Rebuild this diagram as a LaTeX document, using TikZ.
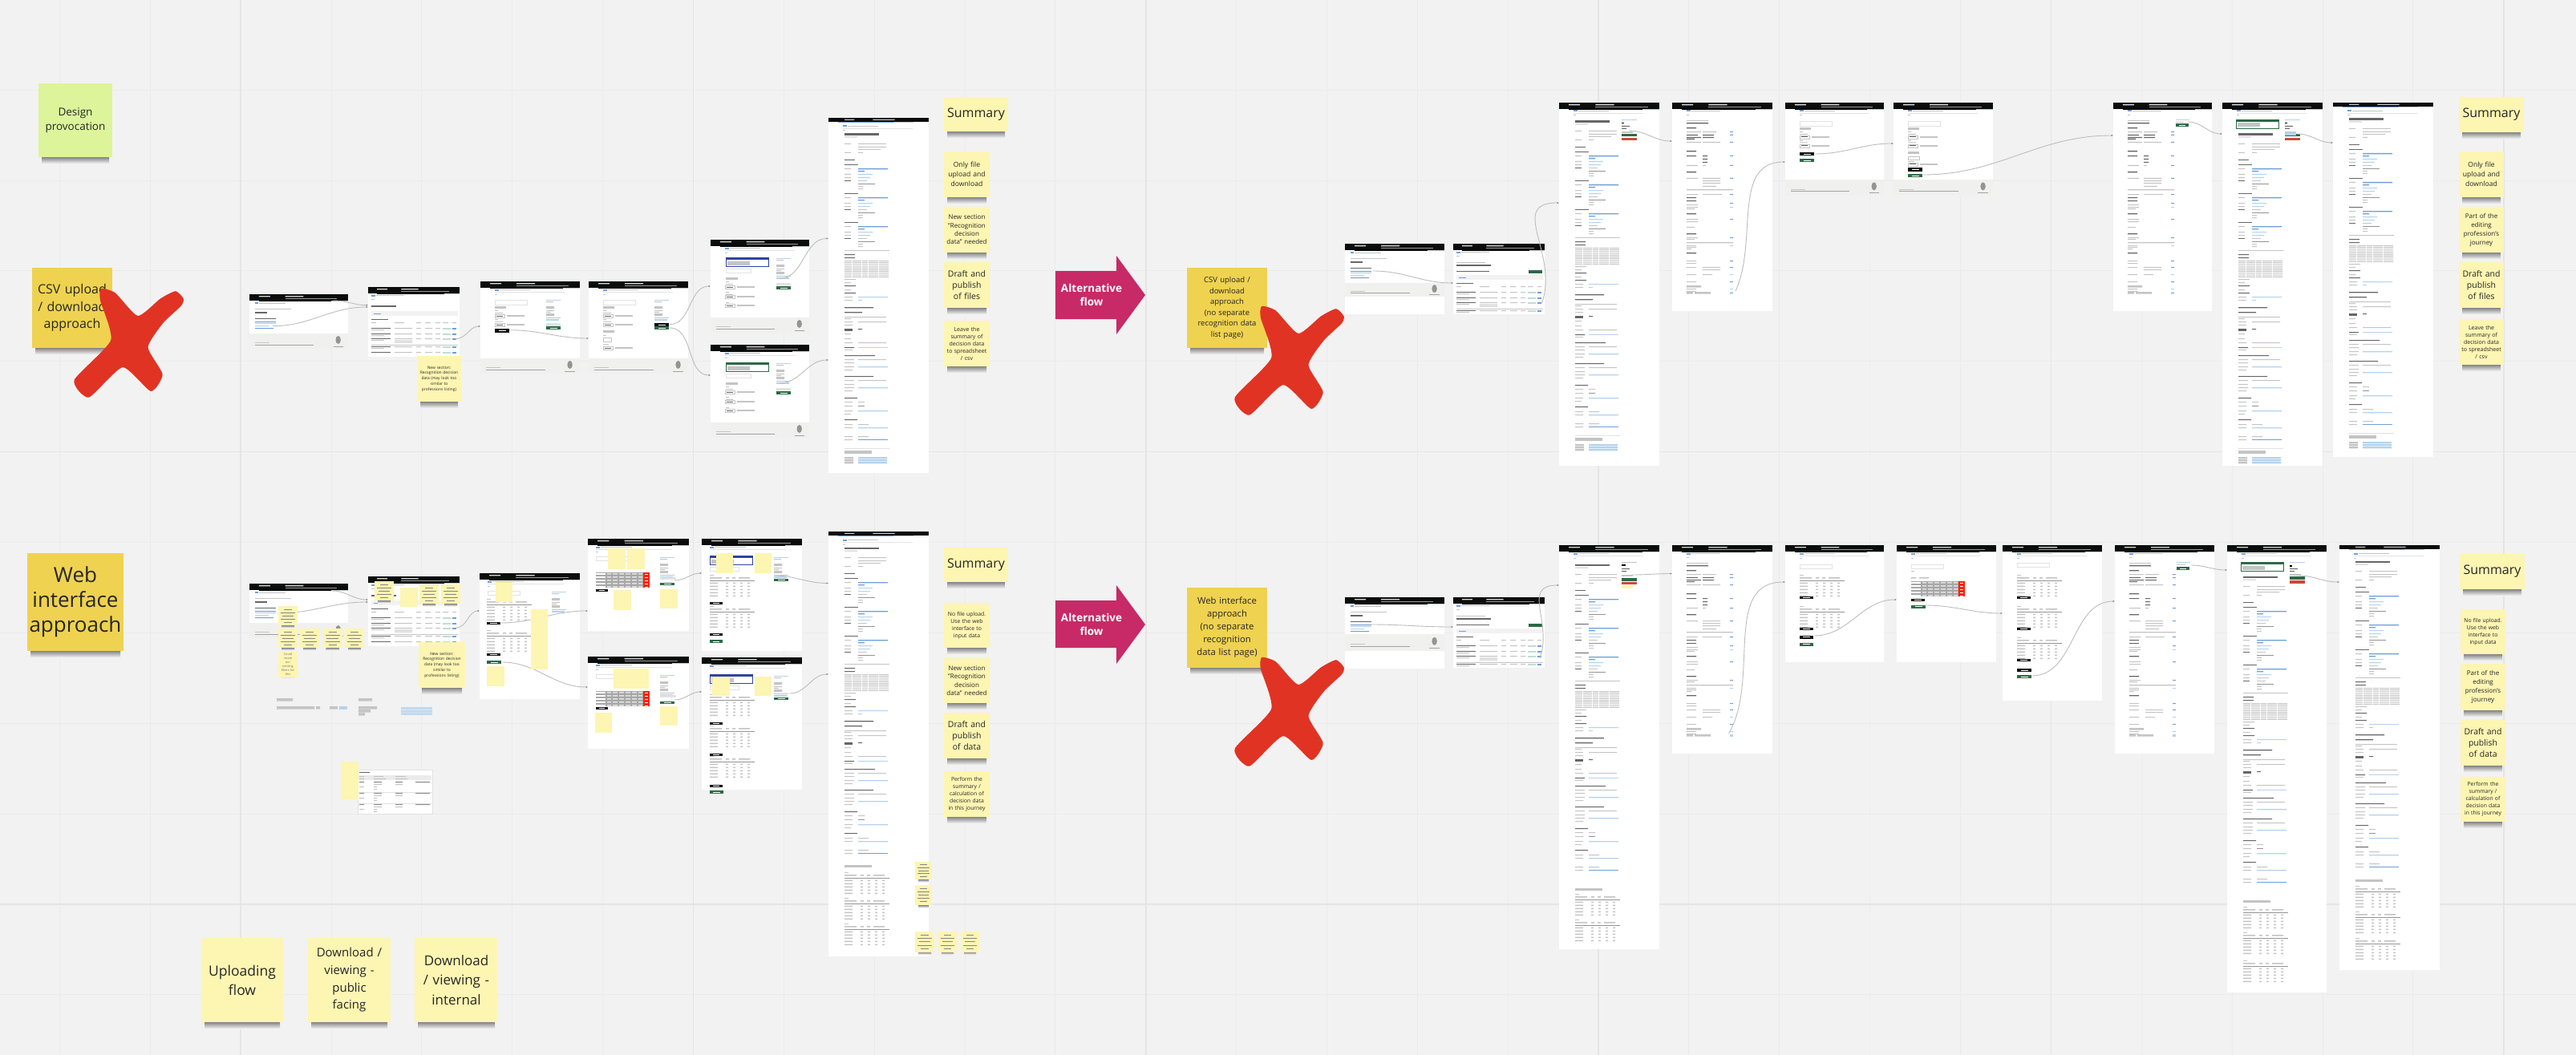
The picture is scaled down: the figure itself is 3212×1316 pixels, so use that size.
\documentclass[tikz,border=0pt]{standalone}
\usepackage{fontspec}
\setmainfont{Open Sans}
\usetikzlibrary{arrows.meta,calc}
\definecolor{bgc}{HTML}{F2F2F2}
\definecolor{gridminor}{HTML}{EBEBEB}
\definecolor{gridmajor}{HTML}{E5E5E5}
\definecolor{stickyy}{HTML}{FDF5B2}
\definecolor{stickyo}{HTML}{EFD250}
\definecolor{stickyg}{HTML}{DDF49B}
\definecolor{crossred}{HTML}{E13323}
\definecolor{alt}{HTML}{C72A66}
\definecolor{hdrblack}{HTML}{0B0C0C}
\definecolor{dk}{HTML}{666666}
\definecolor{gr}{HTML}{C4C4C4}
\definecolor{lgr}{HTML}{E2E2E2}
\definecolor{lb}{HTML}{B5D2EE}
\definecolor{mb}{HTML}{6E9FD8}
\definecolor{gbtn}{HTML}{2B6A45}
\definecolor{rbtn}{HTML}{CC4A35}
\definecolor{ybar}{HTML}{E8C63C}
\definecolor{foot}{HTML}{F0F0EE}
\definecolor{tagc}{HTML}{BFDDD3}
\definecolor{conc}{HTML}{BDBDBD}
\tikzset{
  screenbox/.style={fill=white,draw=none,inner sep=0pt,outer sep=0pt,anchor=north west},
  conn/.style={draw=conc,line width=.9pt,-{Latex[length=2.5pt,width=2.2pt,color=gray]}},
  stickybox/.style={inner sep=2pt,outer sep=0pt,anchor=north west,align=center,text=black!85},
}
\newcommand{\bars}[3]{\fill[#1] \foreach \yy/\xa/\xb in {#3} { (\xa,\yy) rectangle (\xb,\yy+#2) };}
\newcommand{\at}[3]{\begin{scope}[shift={(#1,#2)}]#3\end{scope}}
\newcommand{\btn}[5]{\fill[#1] (#2,#3) rectangle (#2+#4,#3+#5);\fill[white] (#2+.25*#4,#3+.4*#5) rectangle (#2+.75*#4,#3+.6*#5);}
\newcommand{\pagehead}[2]{\begin{scope}[xscale=#1/124]
  \fill[hdrblack] (0,0) rectangle (124,#2);
  \ifdim#2pt<6pt
    \bars{white!80!black}{1}{1.8/20/32,1.8/55/82}
    \fill[mb] (12,#2) rectangle (80,#2+.9);\fill[gr] (80,#2) rectangle (105,#2+.9);
  \else
    \bars{white!85!black}{1.3}{2/12/26,2/45/68}
    \bars{white!60!black}{.9}{5/45/110}
    \fill[ybar] (12,#2) rectangle (103,#2+1.1);\fill[gr] (103,#2) rectangle (124,#2+1.1);
  \fi
\end{scope}}
\newcommand{\screen}[6]{\pgfmathsetmacro\scW{#4-#2}\pgfmathsetmacro\scH{#5-#3}%
  \node[screenbox,minimum width=\scW pt,minimum height=\scH pt] (#1) at (#2,#3) {};
  \at{#2}{#3}{\pagehead{\scW}{#6}}}
\newcommand{\footband}[4]{\at{#1}{#2}{\fill[foot] (0,0) rectangle (#3,#4);
  \bars{gr}{1}{.58*#4/.06*#3/.2*#3}\bars{dk!60}{1}{.72*#4/.06*#3/.65*#3}
  \fill[dk!70] (.9*#3,.42*#4) ellipse (3.2 and 5);\bars{dk!60}{.8}{.82*#4/.85*#3/.95*#3}}}
\newcommand{\bc}{\bars{mb}{2}{9.5/18/23}\bars{gr}{1}{10/24/62}\bars{lgr}{.8}{13/18/105}\bars{gr}{.8}{15.5/18/21}}
\newcommand{\landing}{\bars{mb}{2}{10/7/11}\bars{gr}{1}{10.5/12/45}\bars{gr}{1}{18/7/52}\bars{dk}{2}{21.5/7/22}\bars{dk}{1.1}{30/7/33}
  \bars{mb}{1}{34/7/33,42/7/30}\bars{lb}{1}{36/7/33,39/7/24}}
\newcommand{\listpage}[1]{\bars{mb}{2}{9.5/4/9}\bars{gr}{1}{10/10/45}\bars{gr}{.8}{15/4/8}
  \ifnum#1=0 \bars{dk}{2}{22.5/4/35}\else \bars{gr}{1}{23/4/40}\bars{dk}{2}{26/4/47}\bars{dk}{1.4}{34/4/45}\fill[gbtn] (94,33) rectangle (111,37);\fi
  \at{0}{#1}{\fill[bgc] (4,30) rectangle (112,36);\bars{mb}{1}{32.5/7/16}
   \bars{dk}{1.2}{40/4/25}\bars{gr}{1}{44/4/10,44/33/45,44/60/66,44/71/78,44/84/90,44/93/100,44/105/110}
   \foreach \rr in {51,58,64,74}{\bars{dk}{1.1}{\rr/4/28}\bars{gr}{1.1}{\rr/33/55,\rr/60/66,\rr/71/80,\rr+2/4/20,\rr/84/90}\bars{tagc}{2}{\rr/93/103}\bars{mb}{2}{\rr/105/110}}
   \bars{gr}{1.1}{72/4/112}
   \bars{gr}{1}{66.5/33/55,68.5/33/55}
   \ifnum#1=0 \bars{dk}{1.1}{81/4/28}\bars{gr}{1.1}{81/33/55,81/60/66,81/71/80,81/84/90}\bars{tagc}{2}{81/93/103}\bars{mb}{2}{81/105/110}\fi}}
\newcommand{\forminput}{\draw[lgr,line width=.6pt] (18,23) rectangle (58,29);}
\newcommand{\chipbar}[1]{\draw[gr,line width=.6pt,fill=white] (18,#1) rectangle (30,#1+4);\bars{dk}{.9}{#1+1.5/20/28}\bars{gr}{2.5}{#1+.7/33/55}}
\newcommand{\formtop}{\bc\forminput\bars{gr}{3}{31/18/32}\bars{gr}{1}{36/18/22,39/18/28,47/18/22,49.5/18/28}\chipbar{41}\chipbar{52}}
\newcommand{\formside}[1]{\bars{lb}{1}{23/#1/#1+18}\bars{gr}{1}{25/#1/#1+9,36/#1/#1+10,38/#1/#1+6}\bars{gr}{3}{31/#1/#1+10,40/#1/#1+10}\bars{lb}{2}{47/#1/#1+16}\bars{gr}{1}{45/#1/#1+18}}
\newcommand{\minitable}[2]{\at{#1}{#2}{\bars{gr}{1}{0/0/5}\bars{gr}{1.6}{3/0/15,3/20/24,3/28/32,3/36/50}\bars{dk!70}{1}{6.5/0/56}
  \foreach \rr in {9.5,13.5,17.5,21.5,25.5}{\bars{gr}{1.6}{\rr/0/10,\rr/20/23,\rr/29/32,\rr/38/41,\rr/47/50}}}}
\newcommand{\redtable}[2]{\at{#1}{#2}{\fill[gr!85!black] (0,0) rectangle (59,19);
  \foreach \rr in {1,5,9,13,17}{\bars{white}{1.5}{\rr/0/12}\bars{lgr}{1.5}{\rr/14/19,\rr/21/27,\rr/29/35,\rr/37/43,\rr/45/51,\rr/53/58}}
  \fill[red!75!orange] (59,0) rectangle (67,19);\foreach \rr in {2,6,10,14,18}{\bars{white}{.9}{\rr/60.5/65}}}}
\newcommand{\banner}[3]{\draw[#1,line width=.9pt,fill=white] (#2,#3) rectangle (#2+53,#3+11);\fill[#1] (#2,#3) rectangle (#2+53,#3+3);\fill[gr] (#2+2,#3+4.5) rectangle (#2+30,#3+9.5);}
\newcommand{\groupblock}{\bars{dk}{1.3}{0/20/37}\bars{gr}{1.2}{5/20/28,12/20/28,16/20/28}\bars{dk}{1}{20/20/28}\bars{mb}{1.3}{5/37/74,8/37/45}\bars{lb}{1.2}{12/37/55,16/37/52}\bars{gr}{1.2}{20/37/48}\bars{dk!70}{1.1}{24/37/58}\bars{gr}{1}{27/37/43,30/37/43}}
\newcommand{\detailbody}{\bars{dk}{2.2}{19.5/20/63}\bars{gr}{1}{23.5/20/36,32/20/28,43/20/28,32/37/72,36/37/72,39/37/65,43/37/43}
  \bars{dk}{1.3}{52/20/33}\at{0}{58}{\groupblock}\at{0}{94}{\groupblock}\at{0}{130}{\groupblock}
  \bars{gr}{1.3}{165/20/76}\bars{dk}{1.2}{170/20/33,174/20/33}
  \foreach \rr in {178,180.2,...,198}{\bars{gr}{1}{\rr/20/29,\rr/30/41,\rr/42/49,\rr/50/62,\rr/63/75}}
  \bars{gr}{1}{201/20/34,205/20/28,214/20/28,223/20/30,227/20/30}\bars{dk}{1.1}{209/20/34,218/20/34}\bars{lb}{1.2}{223/37/74,227/37/42}
  \bars{dk}{1.3}{236/20/56,242/20/42}\bars{gr}{1.1}{248/20/72,250/20/28,254/20/30,254/37/72,258/20/30,269/20/28,275/20/28,280/20/30,280/37/72}
  \bars{dk}{2.5}{263/20/30}\bars{dk}{1}{263/37/42,286/20/32}\bars{lb}{1.4}{286/37/74}\bars{gr}{1}{289/20/30}
  \bars{dk}{1.2}{296/20/58,322/20/56,349/20/36,376/20/36}
  \bars{gr}{1.1}{301/20/32,301/37/72,305/20/32,310/20/32,314/20/30,327/20/32,327/37/72,332/20/32,336/20/32,340/20/30,354/20/30,354/37/45,359/20/30,365/20/30,369/20/28,382/20/30,382/37/50,386/20/30,397/20/30,397/37/50,401/20/30}
  \bars{lb}{1.3}{310/37/74,336/37/74,365/37/74,386/37/74}\bars{dk!70}{1}{359/37/45}\bars{mb}{1.4}{401/37/74}}
\newcommand{\tailblocks}[1]{\at{0}{#1}{\bars{lgr}{.8}{0/20/76}\bars{gr}{4}{3/20/54}\bars{gr}{2.4}{11/20/31,14/20/31,17/20/31}\bars{lb}{2.4}{11/37/73,14/37/73,17/37/73}}}
\newcommand{\sidepanel}[1]{\bars{lb}{1}{#1/78/97}\bars{ybar}{1.5}{#1+4/78/81}\bars{dk}{1}{#1+8/78/88,#1+11/78/84}\bars{gr}{1.6}{#1+15/78/92}\fill[gbtn] (78,#1+18) rectangle (97,#1+21.5);\fill[rbtn] (78,#1+23) rectangle (97,#1+26.5);}
\newcommand{\rowspage}{\bars{mb}{2}{9.5/18/23}\bars{gr}{1}{10/24/60}\bars{gr}{.8}{15/18/21,22/18/45}\bars{dk}{1.3}{25/18/45,31/18/30,60/18/30,86/18/30,138/18/30,163/18/30,187/18/30}
  \bars{gr}{1.1}{36/18/36,36/38/55,49/18/36,49/38/60,78/18/32,78/38/42,94/18/32,94/38/60,97/38/60,100/38/60,104/38/55,114/18/32,114/38/62,127/18/32,130/18/32,132/18/28,145/18/32,148/18/32,155/18/28,168/18/32,170/18/28,178/18/30,180/18/30,182/18/24,197/18/30,200/18/30,205/18/30,205/38/60,208/38/60,214/18/30,214/38/50,223/18/30,232/18/30,235/18/30}
  \bars{dk}{1.1}{40/18/32,40/38/52,43/18/36,43/38/52,45/18/28,66/18/30,66/38/44,70/38/44,74/38/44,118/18/30,122/18/30}
  \bars{gr}{1.3}{108/18/76,174/18/76}
  \bars{mb}{1}{36/72/76,40/72/76,49/72/76,66/72/76,78/72/76,94/72/76,114/72/76,125/72/76,145/72/76,168/72/76,197/72/76,205/72/76,223/72/76}
  \bars{lb}{1}{130/72/76,178/72/76,214/72/76,232/72/76}
  \bars{gr}{2.6}{228/18/36,236/18/26,236/28/48}\bars{lb}{2.6}{236/72/76}}
\newcommand{\bannerpage}[1]{\bc\banner{#1}{19}{22}\draw[lgr,line width=.6pt] (19,36) rectangle (50,41);
  \bars{gr}{3}{47/19/34}\bars{gr}{1}{52/19/23,55/19/28,65/19/23,68/19/28,78/19/23}\chipbar{57}\chipbar{69}\chipbar{80}}
\newcommand{\tablestop}{\bars{mb}{2}{9.5/10/15}\bars{gr}{1}{10/16/55}\bars{lgr}{.8}{13/10/105}\bars{gr}{.8}{15.5/10/13}\draw[lgr,line width=.6pt] (10,22) rectangle (50,27);}
% sticky with text: [colour]{name}{x1}{y1}{x2}{y2}{size}{lead}{text}
\newcommand{\shadowbar}[4]{\shade[top color=black!48,bottom color=bgc] (#1+4,#3) rectangle (#2-4,#3+#4);}
\newcommand{\sticky}[9][stickyy]{\pgfmathsetmacro\skW{#5-#3}\pgfmathsetmacro\skH{#6-#4}\pgfmathsetmacro\skT{#5-#3-4}%
  \shadowbar{#3}{#5}{#6}{8}
  \node[stickybox,fill=#1,minimum width=\skW pt,minimum height=\skH pt,text width=\skT pt,font=\fontsize{#7}{#8}\selectfont] (#2) at (#3,#4) {#9};}
\newcommand{\mini}[5]{\pgfmathsetmacro\skW{#4-#2}\pgfmathsetmacro\skH{#5-#3}%
  \shadowbar{#2}{#4}{#5}{3}
  \node[stickybox,inner sep=0pt,fill=stickyy,minimum width=\skW pt,minimum height=\skH pt] (#1) at (#2,#3) {};
  \foreach \kk/\ii in {1/.3,2/.14,3/.2,4/.14,5/.3}{\fill[dk!80] (#2+\ii*\skW,#3+\kk*\skH/6-.35) rectangle (#4-\ii*\skW,#3+\kk*\skH/6+.35);}}
\newcommand{\flatnote}[4]{\fill[stickyy] (#1,#2) rectangle (#3,#4);}
\newcommand{\link}[6][out=0,in=180]{\coordinate (from-#2-#5) at (#3,#4);\coordinate (to-#2-#5) at (#5.west |- 0,#6);\draw[conn] (from-#2-#5) to[#1] (to-#2-#5);}
\newcommand{\crossmark}[2]{\fill[crossred,shift={(#1,#2)}] plot[smooth cycle,tension=.35] coordinates {(33.3,1)(50.8,6.4)(78.9,35)(107,13.5)(125.9,4.2)(135.7,13.5)(132.9,22.4)(110.4,43.9)(91.5,74.2)(109.7,108)(95,129)(59.9,99.2)(17.8,136.7)(-.4,115)(45.2,65.3)(31.9,15.3)};}
\newcommand{\altarrow}[6]{\fill[alt] (1316,#2) -- (1392,#2) -- (1392,#1) -- (1428,#3) -- (1392,#4) -- (1392,#5) -- (1316,#5) -- cycle;
  \node[inner sep=0pt,align=center,text=white,font=\fontsize{13.5}{17.8}\selectfont\bfseries] (#6) at (1361,#3) {Alternative\\flow};}
\begin{document}
\begin{tikzpicture}[x=1pt,y=-1pt]
\useasboundingbox (0,0) rectangle (3212,1316);
\fill[bgc] (0,0) rectangle (3212,1316);
% grid
\foreach \k in {-2,...,26}{\draw[gridminor,line width=1pt] ({300.2+112.86*\k},0) -- ({300.2+112.86*\k},1316);}
\foreach \k in {-4,...,11}{\draw[gridminor,line width=1pt] (0,{563.6+112.86*\k}) -- (3212,{563.6+112.86*\k});}
\foreach \k in {0,...,5}{\draw[gridmajor,line width=1.6pt] ({300.2+564.3*\k},0) -- ({300.2+564.3*\k},1316);}
\foreach \k in {0,1}{\draw[gridmajor,line width=1.6pt] (0,{563.6+564.3*\k}) -- (3212,{563.6+564.3*\k});}

%% ---------- CSV flow
\screen{a1}{311}{367}{434}{416}{8}\at{311}{367}{\landing}\footband{311}{416}{123}{19}
\screen{a2}{459}{358}{573}{445}{8}\at{459}{358}{\listpage{0}}
\screen{a3}{599}{351}{723}{447}{8}\at{599}{351}{\formtop\formside{82}\btn{hdrblack}{18}{59}{18}{5}\fill[lgr] (82,52) rectangle (100,56);\btn{gbtn}{82}{56}{18}{4}}\footband{599}{447}{124}{19}
\screen{a4}{734}{351}{858}{447}{8}\at{734}{351}{\formtop\formside{82}\bars{gr}{3}{61/18/32}\bars{gr}{1}{67/18/22}\draw[gr,line width=.6pt] (18,70) rectangle (28,75);\bars{gr}{1}{78/18/25}\chipbar{81}\btn{hdrblack}{82}{52}{18}{4}\btn{gbtn}{82}{56}{18}{4}}\footband{734}{447}{124}{19}
\screen{a5}{886}{299}{1009}{396}{8}\at{886}{299}{\bannerpage{mb!60!blue!70!black}\formside{82}\fill[lgr] (82,54) rectangle (100,57);\btn{gbtn}{82}{58}{18}{4}}\footband{886}{396}{123}{19}
\screen{a6}{886}{430}{1009}{527}{8}\at{886}{430}{\bannerpage{gbtn}\formside{82}\fill[lgr] (82,54) rectangle (100,57);\btn{gbtn}{82}{58}{18}{4}}\footband{886}{527}{123}{19}
\screen{a7}{1033}{147}{1158}{590}{5}\at{1033}{147}{\bc\detailbody\tailblocks{412}}

%% ---------- CSV alternative
\screen{d1}{1677}{304}{1801}{392}{8}\at{1677}{304}{\landing}\footband{1677}{353}{124}{17}
\screen{d2}{1812}{304}{1926}{392}{8}\at{1812}{304}{\listpage{9}}
\screen{d3}{1944}{128}{2069}{581}{8}\at{1944}{128}{\bc\at{0}{3}{\detailbody\tailblocks{412}}\sidepanel{21}}
\screen{d4}{2085}{128}{2210}{388}{8}\at{2085}{128}{\rowspage}
\screen{d5}{2226}{128}{2349}{224}{8}\at{2226}{128}{\formtop\btn{hdrblack}{18}{62}{18}{4.5}\btn{gbtn}{18}{70}{18}{4}}\footband{2226}{224}{123}{20}
\screen{d6}{2361}{128}{2485}{224}{8}\at{2361}{128}{\formtop\bars{gr}{3}{61/18/32}\draw[gr,line width=.6pt] (18,67) rectangle (32,71);\bars{gr}{1.2}{73/18/26}\chipbar{75}\btn{hdrblack}{18}{81.5}{18}{4.5}\btn{gbtn}{18}{89}{18}{4}}\footband{2361}{224}{124}{20}
\screen{d7}{2635}{128}{2758}{388}{8}\at{2635}{128}{\rowspage\bars{lb}{1}{21/78/95}\bars{gr}{1}{24/78/88}\btn{gbtn}{78}{26}{16}{4}}
\screen{d8}{2771}{128}{2896}{581}{8}\at{2771}{128}{\bc\banner{gbtn}{17}{21}\at{0}{19}{\detailbody\tailblocks{412}}\sidepanel{21}\fill[lb] (78,37) rectangle (92,41);}
\screen{d9}{2909}{128}{3034}{570}{5}\at{2909}{128}{\bc\detailbody\tailblocks{412}}

%% ---------- Web flow
\screen{b1}{311}{728}{434}{777}{8}\at{311}{728}{\landing}\footband{311}{777}{123}{19}
\screen{b2}{459}{719}{573}{806}{8}\at{459}{719}{\listpage{0}}
\screen{b3}{598}{715}{723}{872}{8}\at{598}{715}{\tablestop\minitable{9}{32}\minitable{9}{71}\btn{hdrblack}{9}{61}{17}{3}\btn{hdrblack}{9}{100}{17}{3}\btn{gbtn}{9}{109}{18}{4}\formside{90}}
\screen{b4}{733}{672}{859}{786.6}{8}\at{733}{672}{\tablestop\redtable{10}{42}\btn{hdrblack}{10}{63}{15}{2.5}\formside{90}\fill[lgr] (90,48) rectangle (110,51);\btn{gbtn}{90}{55}{18}{3}}
\screen{b5}{733}{819}{859}{934}{8}\at{733}{819}{\tablestop\redtable{10}{43}\btn{hdrblack}{10}{63}{15}{2.5}\formside{90}\fill[lgr] (90,48) rectangle (110,51);\btn{gbtn}{90}{55.5}{18}{3.4}}
\screen{b6}{875}{672}{1000}{812}{8}\at{875}{672}{\bars{mb}{2}{9.5/10/15}\bars{gr}{1}{10/16/55}\bars{lgr}{.8}{13/10/105}\banner{mb!60!blue!70!black}{10}{21}\draw[lgr,line width=.6pt] (10,35) rectangle (46,40);\minitable{10}{45}\minitable{10}{84}\btn{hdrblack}{10}{79}{16}{3}\btn{hdrblack}{10}{118}{16}{3}\btn{gbtn}{10}{126}{16}{4}\formside{90}\btn{gbtn}{90}{50}{18}{3}}
\screen{b7}{875}{820}{1000}{985}{8}\at{875}{820}{\bars{mb}{2}{9.5/10/15}\bars{gr}{1}{10/16/55}\bars{lgr}{.8}{13/10/105}\banner{mb!60!blue!70!black}{10}{21}\draw[lgr,line width=.6pt] (10,35) rectangle (46,40);\minitable{10}{46}\minitable{10}{85}\minitable{10}{123}\btn{hdrblack}{10}{81}{16}{3}\btn{hdrblack}{10}{120}{16}{3}\btn{hdrblack}{10}{159}{16}{3}\btn{gbtn}{10}{166}{17}{4}\formside{90}\btn{gbtn}{90}{50}{18}{3}}
\screen{b8}{1033}{663}{1158}{1193}{5}\at{1033}{663}{\bc\detailbody\bars{gr}{3}{416/20/54}\minitable{20}{425}\minitable{20}{457}\minitable{20}{489}}
% fragments below the web flow
\bars{gr}{3.5}{871/345/365,871/447/464,881/345/392,881/394/399,881/411/421,881/447/470,885/447/462,889/447/455}
\fill[lb] (423,881) rectangle (433,884.5);
\fill[lb!85!white] (500,882) rectangle (539,892);\bars{white!70!lb}{.7}{885/500/539,888.5/500/539}
\node[screenbox,draw=lgr,line width=.8pt,minimum width=93pt,minimum height=55pt] (wtab) at (446,960) {};
\at{446}{960}{\bars{dk}{1.2}{3/2/15}\fill[lgr!70!white] (1,7) rectangle (92,13);\bars{gr}{1}{8/2/8,8/20/32,8/47/60,11/2/8,11/20/35,11/47/62}
  \foreach \rr in {15,29,43}{\bars{dk!80}{1}{\rr/2/8,\rr/20/30,\rr/47/56,\rr/72/90}\bars{gr}{1}{\rr+3/20/30,\rr+3/47/56,\rr+6/2/8,\rr+6/20/24,\rr+9/20/24}}
  \bars{lgr}{1}{28/0/93,42/0/93}}

%% ---------- Web alternative
\screen{c1}{1677}{745}{1801}{834}{8}\at{1677}{745}{\landing}\footband{1677}{791}{124}{21}
\screen{c2}{1812}{745}{1926}{833}{8}\at{1812}{745}{\listpage{9}}
\screen{c3}{1944}{680}{2069}{1184}{8}\at{1944}{680}{\bc\at{0}{4}{\detailbody}\bars{gr}{1}{21/78/97}\bars{ybar}{1.5}{24/78/83}\bars{dk}{1}{29/78/88,32/78/84}\bars{gr}{2}{37/78/92}\fill[gbtn] (78,41) rectangle (97,44.5);\fill[rbtn] (78,45.5) rectangle (97,49);\fill[stickyy] (78,50) rectangle (92,54);\bars{gr}{3}{428/20/54}\minitable{20}{435}\minitable{20}{467}}
\screen{c4}{2085}{680}{2210}{940}{8}\at{2085}{680}{\rowspage}
\screen{c5}{2226}{680}{2349}{826}{8}\at{2226}{680}{\bc\draw[lgr,line width=.6pt] (18,24) rectangle (58,29);\minitable{18}{37}\minitable{18}{76}\btn{hdrblack}{18}{64}{17}{3}\btn{hdrblack}{18}{103}{17}{3}\btn{hdrblack}{18}{113}{17}{3.5}\btn{gbtn}{18}{122}{17}{3.5}}
\screen{c6}{2365}{680}{2489}{826}{8}\at{2365}{680}{\bc\draw[lgr,line width=.6pt] (18,24) rectangle (58,29);\bars{gr}{1}{32/18/22}\bars{gr}{1.5}{40/18/24,40/28/40}\redtable{18}{45}\btn{hdrblack}{18}{67}{17}{3}\btn{gbtn}{18}{75}{18}{3.5}}
\screen{c7}{2497}{680}{2621}{874}{8}\at{2497}{680}{\bc\draw[lgr,line width=.6pt] (18,22) rectangle (58,27);\minitable{18}{37}\minitable{18}{76}\minitable{18}{115}\btn{hdrblack}{18}{64}{17}{3}\btn{hdrblack}{18}{103}{17}{3}\btn{hdrblack}{18}{142}{17}{3}\btn{hdrblack}{18}{154}{18}{4}\btn{gbtn}{18}{162}{18}{4}}
\screen{c8}{2637}{680}{2761}{940}{8}\at{2637}{680}{\rowspage\bars{lb}{1}{21/77/94}\bars{gr}{1}{24/77/88}\btn{gbtn}{77}{27}{16}{4}}
\screen{c9}{2777}{680}{2901}{1238}{8}\at{2777}{680}{\bc\banner{gbtn}{17}{21}\at{0}{19}{\detailbody}\sidepanel{21}\bars{gr}{3}{443/20/54}\minitable{20}{451}\minitable{20}{483}\minitable{20}{518}}
\screen{c10}{2917}{680}{3042}{1210}{5}\at{2917}{680}{\bc\detailbody\bars{gr}{3}{417/20/54}\minitable{20}{425}\minitable{20}{457}\minitable{20}{490}}

%% ---------- connectors
\link{a1}{415.7}{375}{a2}{380.7}
\link{a1}{340}{406.7}{a2}{383}
\link{a2}{568}{422.7}{a3}{407}
\link{a3}{635}{411.7}{a4}{422}
\link{a4}{835}{404.6}{a5}{357}
\link{a4}{835}{409}{a6}{468}
\link{a5}{971.6}{347.5}{a7}{297.5}
\link{a6}{971.6}{478}{a7}{449}
\link{d1}{1712}{338}{d2}{353}
\link[out=70,in=180,looseness=1.3]{d2}{1922.5}{378}{d3}{253}
\link{d3}{2031}{163}{d4}{176}
\link[out=65,in=180]{d4}{2164}{363}{d5}{202}
\link{d5}{2263}{192}{d6}{179}
\link{d6}{2398}{218}{d7}{169}
\link{d7}{2728}{152}{d8}{167}
\link{d8}{2864.5}{167}{d9}{178}
\link{b1}{414}{737}{b2}{748}
\link{b1}{346}{765}{b2}{751}
\link{b2}{568.6}{783}{b3}{762}
\link{b3}{623}{777}{b4}{762}
\link{b3}{626}{826}{b5}{857}
\link{b4}{841}{724}{b6}{715}
\link{b5}{841}{873}{b7}{863}
\link{b6}{965}{718}{b8}{727.5}
\link{b7}{984.5}{865}{b8}{841}
\link{c1}{1709}{779}{c2}{782}
\link[out=70,in=180,looseness=1.3]{c2}{1920}{821}{c3}{730}
\link{c3}{2034.5}{717}{c4}{715.5}
\link[out=60,in=180]{c4}{2155.6}{915}{c5}{726}
\link{c5}{2262}{793}{c6}{748}
\link{c6}{2400}{755}{c7}{765}
\link{c7}{2533.5}{843}{c8}{750}
\link{c8}{2731.6}{705}{c9}{711}
\link{c9}{2863.5}{717.6}{c10}{726}

%% ---------- blank notes lying on the screens
\flatnote{617.5}{726}{639}{751}\flatnote{662}{760}{683}{835}\flatnote{607}{831}{628.6}{856}
\flatnote{758}{684}{780}{710}\flatnote{782}{684}{804}{710}\flatnote{765}{736}{787}{761}\flatnote{823}{735}{845}{759}
\flatnote{765}{834}{809}{859}\flatnote{742}{889}{763}{914}\flatnote{823}{881}{845}{905}
\flatnote{893}{690}{914}{715}\flatnote{941}{690}{962}{715}
\flatnote{888}{844}{910}{868}\flatnote{941}{844}{962}{868}
\flatnote{499}{733}{521}{757}\flatnote{425}{950}{447}{997}

%% ---------- small notes
\mini{s1}{347}{756}{371}{780}\mini{s2}{347}{784}{371}{808}\mini{s3}{374}{784}{398}{808}\mini{s4}{402.5}{784}{427}{808}\mini{s5}{430}{784}{454}{808}
\sticky{s6}{347}{813}{371}{838}{3.8}{5}{\textcolor{black!55}{Could reuse\\our existing\\filters for\\this}}
\mini{s7}{467}{725}{491}{749}\mini{s9}{523}{729}{547}{753}\mini{s10}{550}{729}{574}{753}
\mini{s12}{1141}{1075}{1162}{1097}\mini{s13}{1141}{1104}{1162}{1129}\mini{s14}{1141}{1162}{1165}{1187.5}\mini{s15}{1170}{1162}{1193}{1187.5}\mini{s16}{1198}{1162}{1221}{1187.5}
\sticky{n1}{520}{444}{575}{501}{4.9}{6.8}{New section:\\Recognition decision\\data (may look too\\similar to\\professions listing)}
\sticky{n2}{522}{801}{580}{858}{4.9}{6.8}{New section:\\Recognition decision\\data (may look too\\similar to\\professions listing)}

%% ---------- main notes
\sticky[stickyg]{prov}{48}{104}{140}{196}{13.5}{18}{Design\\provocation}
\sticky[stickyo]{csv}{40}{334}{140}{434}{16}{21.4}{CSV upload\\/ download\\approach}
\sticky[stickyo]{web}{34}{690}{154}{812}{26}{31}{Web\\interface\\approach}
\sticky[stickyo]{csvalt}{1480}{334}{1580}{434}{9.5}{13.6}{CSV upload /\\download\\approach\\(no separate\\recognition data\\list page)}
\sticky[stickyo]{webalt}{1480}{733}{1580}{833}{11.3}{16}{Web interface\\approach\\(no separate\\recognition\\data list page)}
% summaries, upper left
\sticky{su1}{1177}{121}{1257}{164}{16}{20}{Summary}
\sticky{su2}{1177}{189}{1234}{246}{8.6}{12}{Only file\\upload and\\download}
\sticky{su3}{1177}{258}{1234}{315}{8}{10.3}{New section\\"Recognition\\decision\\data" needed}
\sticky{su4}{1177}{327}{1234}{384}{10.5}{14.3}{Draft and\\publish\\of files}
\sticky{su5}{1177}{400}{1234}{457}{7}{9}{Leave the\\summary of\\decision data\\to spreadsheet\\/ csv}
% summaries, upper right
\sticky{sv1}{3066}{121}{3147}{165}{16}{20}{Summary}
\sticky{sv2}{3066}{189}{3122}{246}{8.6}{12}{Only file\\upload and\\download}
\sticky{sv3}{3066}{258}{3122}{315}{8}{11}{Part of the\\editing\\profession's\\journey}
\sticky{sv4}{3066}{327}{3122}{384}{10.5}{14.3}{Draft and\\publish\\of files}
\sticky{sv5}{3066}{398}{3122}{455}{7}{9}{Leave the\\summary of\\decision data\\to spreadsheet\\/ csv}
% summaries, lower left
\sticky{st1}{1177}{683}{1257}{726}{16}{20}{Summary}
\sticky{st2}{1177}{752}{1234}{808}{6.8}{9}{No file upload.\\Use the web\\interface to\\input data}
\sticky{st3}{1177}{821}{1234}{877}{8}{10.3}{New section\\"Recognition\\decision\\data" needed}
\sticky{st4}{1177}{889}{1234}{946}{10.5}{14.3}{Draft and\\publish\\of data}
\sticky{st5}{1177}{962}{1234}{1019}{6.8}{9}{Perform the\\summary /\\calculation of\\decision data\\in this journey}
% summaries, lower right
\sticky{sw1}{3067}{691}{3148}{735}{16}{20}{Summary}
\sticky{sw2}{3068}{760}{3124}{816}{6.8}{9}{No file upload.\\Use the web\\interface to\\input data}
\sticky{sw3}{3068}{828}{3124}{886}{8}{11}{Part of the\\editing\\profession's\\journey}
\sticky{sw4}{3068}{898}{3124}{955}{10.5}{14.3}{Draft and\\publish\\of data}
\sticky{sw5}{3068}{969}{3124}{1025}{6.8}{9}{Perform the\\summary /\\calculation of\\decision data\\in this journey}
% key
\sticky{k1}{251}{1170}{353}{1275}{17.5}{24}{Uploading\\flow}
\sticky{k2}{384}{1170}{487}{1275}{15}{21.7}{Download /\\viewing -\\public\\facing}
\sticky{k3}{517}{1170}{621}{1275}{17}{24.6}{Download\\/ viewing -\\internal}

%% ---------- arrows and crosses
\altarrow{319}{338}{368}{417}{398}{alt1}
\altarrow{730}{749}{779}{828}{808}{alt2}
\crossmark{93}{359}
\crossmark{1540}{381}
\crossmark{1540}{819}
\end{tikzpicture}
\end{document}
